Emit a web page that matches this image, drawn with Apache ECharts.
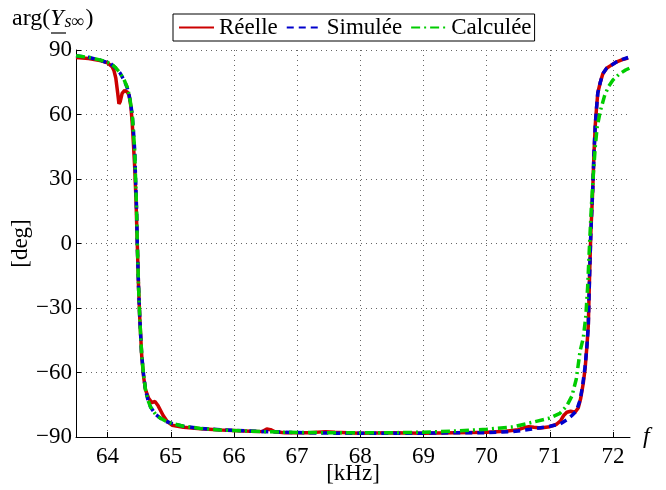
<!DOCTYPE html>
<html><head><meta charset="utf-8">
<script src="https://cdn.jsdelivr.net/npm/echarts@6/dist/echarts.min.js"></script>
<style>html,body{margin:0;padding:0;background:#fff}#c{width:666px;height:490px}</style>
</head><body><div id="c"></div>
<script>
const xTicks = [64, 65, 66, 67, 68, 69, 70, 71, 72];
const yTicks = [-90, -60, -30, 0, 30, 60, 90];
const seriesNames = ['Réelle', 'Simulée', 'Calculée'];

const reelle = [[63.5,86.5],[63.7,86.0],[63.9,85.0],[64.0,84.0],[64.07,82.3],[64.1,80.5],[64.13,77.0],[64.16,70.0],[64.18,65.0],[64.2,66.0],[64.23,69.8],[64.27,71.2],[64.31,70.5],[64.34,69.0],[64.37,63.5],[64.39,56],[64.41,46],[64.43,35],[64.45,20],[64.47,0],[64.49,-20],[64.51,-35],[64.54,-52],[64.57,-62],[64.6,-68],[64.65,-72],[64.7,-74],[64.75,-73.5],[64.8,-75.5],[64.88,-80],[64.95,-83],[65.02,-84.5],[65.2,-85.5],[65.47,-86.2],[65.8,-86.8],[66.26,-87.3],[66.45,-87.5],[66.52,-86.3],[66.58,-86.6],[66.65,-87.6],[66.8,-88],[67.2,-88],[67.45,-87.5],[67.6,-87.8],[68.0,-88.2],[68.5,-88],[69.0,-88.2],[69.5,-88],[70.0,-87.8],[70.3,-87.3],[70.5,-86.6],[70.6,-85.6],[70.67,-85.2],[70.75,-85.5],[70.85,-85.8],[71.0,-85.2],[71.1,-84.2],[71.17,-82.5],[71.22,-80],[71.27,-78.5],[71.33,-78],[71.4,-78.5],[71.45,-76.5],[71.49,-72],[71.53,-65],[71.56,-58],[71.59,-47],[71.61,-38],[71.63,-15],[71.65,5],[71.68,25],[71.70,42],[71.72,55],[71.74,63],[71.76,70],[71.8,75],[71.84,79],[71.9,81.5],[71.95,82.5],[72.06,84.5],[72.15,85.5],[72.24,86.3]];

const simulee = [[63.5,87.3],[63.7,86.6],[63.89,85.2],[64.05,83.6],[64.12,81.8],[64.2,79.2],[64.26,76],[64.31,72.5],[64.34,69],[64.36,66],[64.39,60],[64.41,52],[64.43,43],[64.44,33],[64.46,15],[64.47,0],[64.49,-20],[64.51,-35],[64.54,-52],[64.57,-61],[64.6,-68],[64.64,-73],[64.68,-76],[64.76,-79.5],[64.84,-81.3],[64.93,-82.8],[65.02,-83.7],[65.2,-85],[65.47,-86],[65.8,-86.7],[66.26,-87.2],[66.8,-87.8],[67.5,-88.2],[68.0,-88.3],[68.5,-88.2],[69.0,-88.2],[69.5,-88],[70.0,-88],[70.42,-87.5],[70.69,-86.4],[71.0,-85],[71.16,-84],[71.27,-82],[71.35,-80],[71.42,-78],[71.48,-72.8],[71.52,-66],[71.56,-57],[71.59,-47],[71.61,-38],[71.63,-15],[71.65,5],[71.68,25],[71.70,42],[71.72,55],[71.74,63],[71.76,70],[71.8,75],[71.84,79],[71.9,81.5],[71.95,82.5],[72.06,84.5],[72.15,85.6],[72.24,86.5]];

const calculee = [[63.5,87.3],[63.7,86.6],[63.89,85.3],[64.05,83.8],[64.12,82],[64.2,79.3],[64.26,76.2],[64.31,72.8],[64.34,69.2],[64.36,66],[64.39,60],[64.41,52],[64.43,43],[64.44,33],[64.46,15],[64.47,0],[64.49,-20],[64.51,-35],[64.54,-52],[64.57,-61],[64.6,-68],[64.64,-73],[64.68,-76],[64.76,-79.5],[64.84,-81.3],[64.93,-82.8],[65.02,-83.7],[65.2,-85],[65.47,-86],[65.8,-86.8],[66.26,-87.3],[66.8,-87.8],[67.5,-88],[68.0,-88],[68.5,-88],[69.0,-87.8],[69.5,-87.2],[70.0,-86.4],[70.42,-85.3],[70.69,-83.4],[71.0,-81.2],[71.16,-79],[71.27,-75.5],[71.35,-71],[71.42,-63],[71.48,-50],[71.53,-44],[71.57,-34],[71.6,-20],[71.63,0],[71.66,18],[71.69,32],[71.72,45],[71.75,54],[71.8,61.6],[71.87,69],[71.93,73],[72.0,76],[72.1,78.8],[72.2,80.7],[72.26,81.5]];

const FONT = 'Liberation Serif';
const chart = echarts.init(document.getElementById('c'), null, {renderer: 'canvas'});
const gridLine = {show: true, lineStyle: {color: '#666', type: [1, 4], width: 1}};
chart.setOption({
  animation: false,
  backgroundColor: '#fff',
  grid: {left: 76, right: 36, top: 50, bottom: 53, containLabel: false, outerBoundsMode: 'none'},
  legend: {
    data: seriesNames,
    left: 173, top: 14,
    orient: 'horizontal',
    itemWidth: 35, itemHeight: 14, itemGap: 8,
    padding: [2, 3, 2, 5],
    borderColor: '#000', borderWidth: 1, borderRadius: 0,
    backgroundColor: '#fff',
    itemStyle: {opacity: 0},
    textStyle: {fontFamily: FONT, fontSize: 23, color: '#000'}
  },
  xAxis: {
    type: 'value', min: 63.5, max: 72.27,
    axisLine: {show: true, onZero: false, lineStyle: {color: '#000', width: 1}},
    axisTick: {show: true, inside: true, length: 5, customValues: xTicks, lineStyle: {color: '#000'}},
    axisLabel: {customValues: xTicks, fontFamily: FONT, fontSize: 23, color: '#000', margin: 8},
    splitLine: gridLine,
    name: '[kHz]', nameLocation: 'middle', nameGap: 25, nameMoveOverlap: false,
    nameTextStyle: {fontFamily: FONT, fontSize: 23, color: '#000'}
  },
  yAxis: {
    type: 'value', min: -90, max: 90, interval: 30,
    axisLine: {show: true, onZero: false, lineStyle: {color: '#000', width: 1}},
    axisTick: {show: true, inside: true, length: 5, lineStyle: {color: '#000'}},
    axisLabel: {fontFamily: FONT, fontSize: 23, color: '#000', margin: 4,
      formatter: v => String(v).replace('-', '\u2212')},
    splitLine: gridLine,
    name: '[deg]', nameLocation: 'middle', nameGap: 44, nameRotate: 90, nameMoveOverlap: false,
    nameTextStyle: {fontFamily: FONT, fontSize: 23, color: '#000'}
  },
  series: [
    {name: seriesNames[0], type: 'line', data: reelle, symbol: 'none', smooth: false,
     lineStyle: {color: '#cc0000', width: 3.5}, itemStyle: {color: '#cc0000'}, z: 2},
    {name: seriesNames[1], type: 'line', data: simulee, symbol: 'none', smooth: false,
     lineStyle: {color: '#0000cc', width: 3.5, type: [7, 5]}, itemStyle: {color: '#0000cc'}, z: 3},
    {name: seriesNames[2], type: 'line', data: calculee, symbol: 'none', smooth: false,
     lineStyle: {color: '#00cc00', width: 3.5, type: [9, 4, 2, 4]}, itemStyle: {color: '#00cc00'}, z: 4}
  ],
  graphic: [
    {type: 'text', left: 12, top: 7, style: {
      text: '{n|arg(}{y|Y}{s|s∞}{n|)}',
      rich: {
        n: {fontFamily: FONT, fontSize: 24, color: '#000', lineHeight: 28, verticalAlign: 'bottom'},
        y: {fontFamily: FONT, fontSize: 24, fontStyle: 'italic', color: '#000', lineHeight: 28, verticalAlign: 'bottom'},
        s: {fontFamily: FONT, fontSize: 18, fontStyle: 'italic', color: '#000', lineHeight: 18, verticalAlign: 'bottom', padding: [0, 1, 0, 1]}
      }
    }},
    {type: 'line', shape: {x1: 51, y1: 33, x2: 66, y2: 33}, style: {stroke: '#000', lineWidth: 1.2}},
    {type: 'text', left: 643, top: 425, style: {text: 'f', fontFamily: FONT, fontSize: 24, fontStyle: 'italic', fill: '#000'}}
  ]
});
</script>
</body></html>
